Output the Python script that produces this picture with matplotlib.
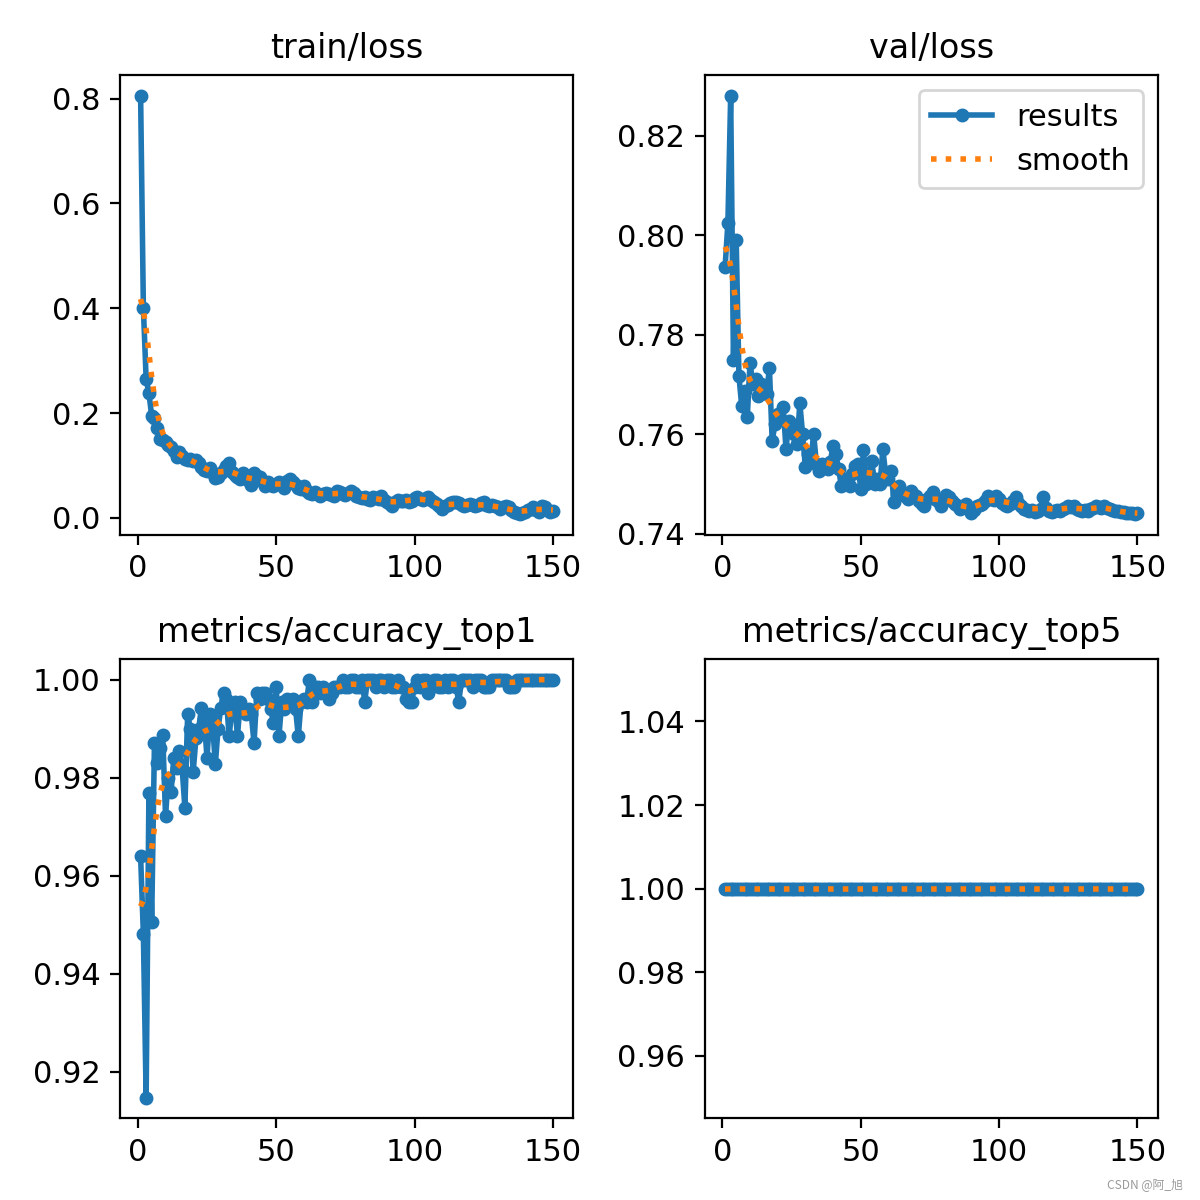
import numpy as np
import matplotlib
matplotlib.use("Agg")
import matplotlib.pyplot as plt

plt.rcParams["font.size"] = 11

# ---------- dados ----------
epochs = list(range(1, 151))

train_loss = [
    0.805, 0.400, 0.265, 0.238, 0.195, 0.190, 0.172, 0.150, 0.148, 0.145,
    0.140, 0.135, 0.128, 0.117, 0.125, 0.118, 0.112, 0.110, 0.112, 0.108,
    0.110, 0.105, 0.098, 0.092, 0.090, 0.095, 0.085, 0.077, 0.078, 0.085,
    0.092, 0.100, 0.105, 0.088, 0.082, 0.078, 0.075, 0.085, 0.078, 0.070,
    0.062, 0.085, 0.080, 0.078, 0.070, 0.060, 0.068, 0.062, 0.060, 0.065,
    0.068, 0.062, 0.058, 0.070, 0.075, 0.068, 0.062, 0.058, 0.055, 0.060,
    0.052, 0.048, 0.045, 0.050, 0.046, 0.042, 0.045, 0.048, 0.046, 0.044,
    0.042, 0.052, 0.050, 0.046, 0.044, 0.048, 0.052, 0.048, 0.042, 0.040,
    0.038, 0.040, 0.036, 0.035, 0.040, 0.038, 0.036, 0.042, 0.035, 0.030,
    0.026, 0.022, 0.030, 0.035, 0.032, 0.033, 0.034, 0.030, 0.032, 0.038,
    0.040, 0.036, 0.034, 0.038, 0.040, 0.034, 0.030, 0.026, 0.022, 0.018,
    0.022, 0.025, 0.028, 0.030, 0.030, 0.028, 0.025, 0.022, 0.025, 0.026,
    0.024, 0.022, 0.025, 0.028, 0.030, 0.025, 0.022, 0.024, 0.022, 0.020,
    0.018, 0.020, 0.022, 0.020, 0.015, 0.012, 0.010, 0.008, 0.010, 0.012,
    0.015, 0.018, 0.020, 0.015, 0.012, 0.022, 0.020, 0.015, 0.012, 0.014,
]

val_loss = [
    0.7937, 0.8025, 0.8280, 0.7750, 0.7990, 0.7716, 0.7656, 0.7686, 0.7634, 0.7744,
    0.7700, 0.7710, 0.7676, 0.7700, 0.7690, 0.7680, 0.7734, 0.7586, 0.7620, 0.7640,
    0.7630, 0.7654, 0.7570, 0.7626, 0.7610, 0.7600, 0.7580, 0.7662, 0.7600, 0.7534,
    0.7560, 0.7550, 0.7600, 0.7540, 0.7526, 0.7540, 0.7535, 0.7530, 0.7545, 0.7576,
    0.7560, 0.7530, 0.7496, 0.7500, 0.7510, 0.7495, 0.7520, 0.7536, 0.7540, 0.7490,
    0.7568, 0.7500, 0.7520, 0.7546, 0.7500, 0.7510, 0.7500, 0.7570, 0.7520, 0.7510,
    0.7526, 0.7464, 0.7480, 0.7496, 0.7480, 0.7475, 0.7470, 0.7485, 0.7480, 0.7475,
    0.7465, 0.7460, 0.7456, 0.7470, 0.7475, 0.7484, 0.7470, 0.7465, 0.7455, 0.7470,
    0.7478, 0.7474, 0.7465, 0.7460, 0.7455, 0.7450, 0.7455, 0.7460, 0.7450, 0.7442,
    0.7448, 0.7455, 0.7458, 0.7460, 0.7465, 0.7476, 0.7470, 0.7468, 0.7476, 0.7470,
    0.7462, 0.7458, 0.7455, 0.7460, 0.7465, 0.7474, 0.7462, 0.7456, 0.7450, 0.7448,
    0.7446, 0.7448, 0.7443, 0.7446, 0.7450, 0.7474, 0.7452, 0.7446, 0.7444, 0.7446,
    0.7448, 0.7446, 0.7450, 0.7452, 0.7456, 0.7454, 0.7456, 0.7450, 0.7448, 0.7446,
    0.7448, 0.7446, 0.7450, 0.7452, 0.7456, 0.7454, 0.7452, 0.7456, 0.7452, 0.7450,
    0.7448, 0.7446, 0.7445, 0.7444, 0.7443, 0.7442, 0.7441, 0.7442, 0.7440, 0.7441,
]

acc_top1 = [
    0.9639, 0.9480, 0.9147, 0.9769, 0.9506, 0.9870, 0.9830, 0.9860, 0.9886, 0.9722,
    0.9800, 0.9770, 0.9840, 0.9820, 0.9855, 0.9820, 0.9739, 0.9929, 0.9900, 0.9812,
    0.9880, 0.9900, 0.9943, 0.9920, 0.9840, 0.9929, 0.9912, 0.9827, 0.9900, 0.9943,
    0.9973, 0.9960, 0.9884, 0.9940, 0.9955, 0.9884, 0.9955, 0.9940, 0.9929, 0.9940,
    0.9930, 0.9870, 0.9973, 0.9960, 0.9973, 0.9973, 0.9960, 0.9940, 0.9912, 0.9986,
    0.9884, 0.9955, 0.9940, 0.9960, 0.9955, 0.9960, 0.9940, 0.9884, 0.9955, 0.9960,
    0.9955, 1.0000, 0.9955, 0.9986, 0.9986, 0.9973, 0.9986, 0.9973, 0.9960, 0.9973,
    0.9986, 0.9986, 0.9986, 1.0000, 0.9986, 0.9986, 1.0000, 1.0000, 0.9986, 0.9986,
    1.0000, 0.9955, 1.0000, 1.0000, 1.0000, 0.9986, 1.0000, 1.0000, 0.9986, 1.0000,
    1.0000, 0.9986, 0.9986, 1.0000, 0.9986, 0.9986, 0.9960, 0.9955, 0.9955, 0.9986,
    1.0000, 0.9986, 1.0000, 1.0000, 0.9973, 0.9986, 1.0000, 1.0000, 0.9986, 0.9986,
    1.0000, 0.9986, 1.0000, 1.0000, 0.9986, 0.9955, 1.0000, 1.0000, 1.0000, 1.0000,
    0.9986, 1.0000, 1.0000, 1.0000, 0.9986, 0.9986, 0.9986, 1.0000, 1.0000, 1.0000,
    1.0000, 1.0000, 1.0000, 0.9986, 0.9986, 0.9986, 1.0000, 1.0000, 1.0000, 1.0000,
    1.0000, 1.0000, 1.0000, 1.0000, 1.0000, 1.0000, 1.0000, 1.0000, 1.0000, 1.0000,
]

acc_top5 = [1.0] * 150

titles = ["train/loss", "val/loss", "metrics/accuracy_top1", "metrics/accuracy_top5"]
series = [train_loss, val_loss, acc_top1, acc_top5]


def smooth(y, sigma=3, truncate=4.0):
    """filtro gaussiano 1D (modo reflect), como no gaussian_filter1d"""
    y = np.asarray(y, float)
    r = int(truncate * sigma + 0.5)
    k = np.exp(-0.5 * (np.arange(-r, r + 1) / sigma) ** 2)
    k /= k.sum()
    yp = np.pad(y, r, mode="symmetric")
    return np.convolve(yp, k, mode="valid")


fig, ax = plt.subplots(2, 2, figsize=(6, 6))
fig.subplots_adjust(left=0.100, right=0.965, top=0.9375, bottom=0.068,
                    wspace=0.289, hspace=0.27)
ax = ax.ravel()
for i, (t, y) in enumerate(zip(titles, series)):
    ax[i].plot(epochs, y, marker=".", label="results", linewidth=2, markersize=8)
    ax[i].plot(epochs, smooth(y), ":", label="smooth", linewidth=2)
    ax[i].set_title(t, fontsize=12)
ax[1].legend()

fig.text(0.986, 0.007, "CSDN @阿_旭", ha="right", va="bottom", fontsize=4.3,
         color="#9a9a9a", family=["Noto Sans CJK SC", "DejaVu Sans"])

fig.savefig("out.png", dpi=200)
